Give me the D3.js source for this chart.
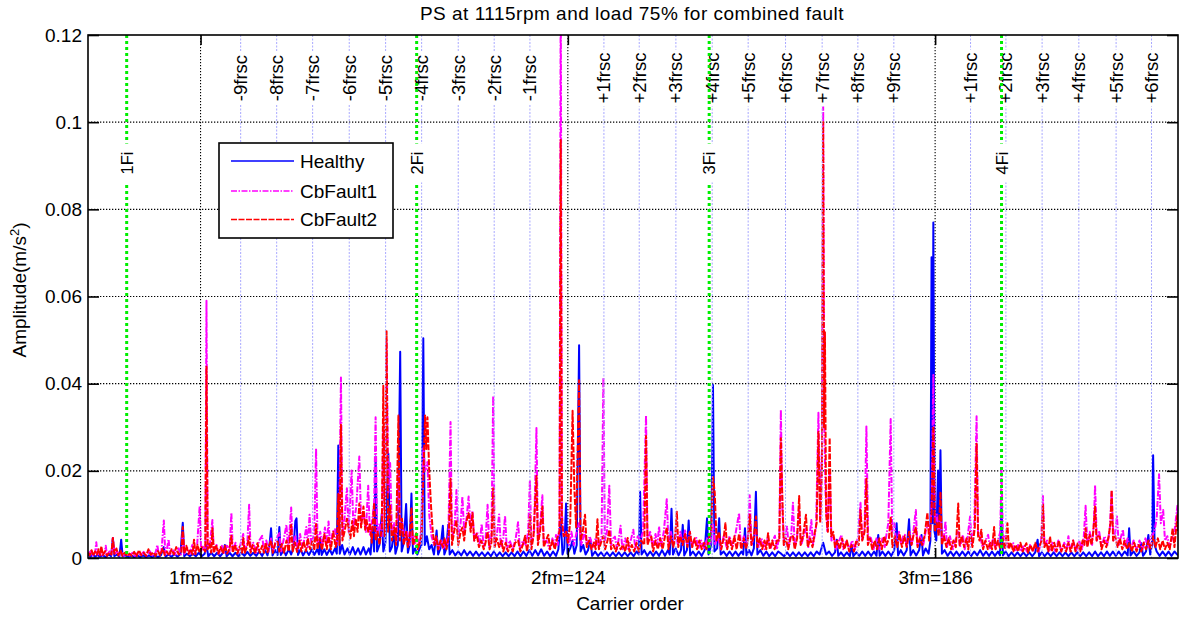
<!DOCTYPE html>
<html>
<head>
<meta charset="utf-8">
<script src="https://cdn.jsdelivr.net/npm/d3@7/dist/d3.min.js"></script>
<style>
  body { margin: 0; background: #fff; }
  text { font-family: "Liberation Sans", Arial, Helvetica, sans-serif; fill: #000; }
</style>
</head>
<body>
<svg id="chart" width="1179" height="618"></svg>
<script>
// ---- Spectrum data: [carrier order, amplitude (m/s^2)] ----
const healthy = [[43.0,.0008],[43.4,.0003],[43.8,.0008],[44.2,.0003],[44.6,.0007],[45.0,.0003],[45.5,.0006],[46.0,.0002],[46.5,.0008],[46.9,.0004],[47.2,.0046],[47.45,.0004],[47.9,.0008],[48.3,.0003],[48.6,.0042],[48.85,.0004],[49.3,.0006],[49.8,.0002],[50.3,.0006],[50.8,.0002],[51.3,.0006],[51.8,.0002],[52.3,.0006],[52.8,.0002],[53.3,.0006],[53.8,.0002],[54.3,.0006],[54.8,.0002],[55.3,.0006],[55.8,.0025],[56.1,.0003],[56.6,.0008],[57.1,.0003],[57.6,.0009],[58.1,.0003],[58.6,.0009],[59.0,.0081],[59.25,.0004],[59.7,.0010],[60.2,.0004],[60.7,.0010],[61.2,.0004],[61.7,.0012],[62.2,.0004],[62.7,.0010],[63.0,.0030],[63.3,.0004],[63.8,.0012],[64.3,.0004],[64.8,.0012],[65.3,.0004],[65.8,.0012],[66.1,.0030],[66.4,.0004],[66.9,.0012],[67.4,.0004],[67.9,.0012],[68.4,.0004],[68.9,.0012],[69.4,.0005],[69.9,.0014],[70.4,.0005],[70.9,.0012],[71.4,.0005],[71.9,.0015],[72.4,.0005],[72.9,.0018],[73.3,.0006],[73.6,.0025],[73.9,.0068],[74.15,.0006],[74.6,.0018],[75.0,.0007],[75.3,.0071],[75.55,.0007],[76.0,.0018],[76.4,.0006],[76.9,.0020],[77.3,.0008],[77.7,.0025],[78.0,.0085],[78.2,.0091],[78.45,.0007],[78.9,.0020],[79.3,.0006],[79.8,.0018],[80.3,.0007],[80.8,.0020],[81.2,.0007],[81.7,.0020],[82.0,.0008],[82.2,.0046],[82.45,.0007],[82.9,.0020],[83.3,.0007],[83.8,.0020],[84.2,.0008],[84.7,.0022],[85.0,.0010],[85.25,.0258],[85.5,.0010],[85.9,.0030],[86.3,.0008],[86.8,.0022],[87.2,.0008],[87.7,.0025],[88.1,.0008],[88.6,.0022],[89.0,.0008],[89.5,.0025],[89.9,.0008],[90.4,.0022],[90.7,.0008],[91.0,.0070],[91.3,.0015],[91.55,.0233],[91.8,.0015],[92.2,.0030],[92.6,.0103],[92.85,.0015],[93.2,.0035],[93.7,.0240],[93.95,.0015],[94.3,.0025],[94.65,.0063],[94.9,.0010],[95.3,.0030],[95.7,.0473],[95.95,.0015],[96.3,.0035],[96.7,.0124],[97.0,.0012],[97.3,.0030],[97.6,.0148],[97.85,.0010],[98.2,.0022],[98.6,.0008],[99.0,.0022],[99.3,.0030],[99.6,.0504],[99.85,.0030],[100.2,.0050],[100.6,.0020],[101.0,.0030],[101.4,.0008],[101.85,.0063],[102.1,.0008],[102.5,.0022],[102.9,.0074],[103.15,.0008],[103.5,.0022],[103.8,.0076],[104.05,.0008],[104.5,.0018],[105.0,.0006],[105.5,.0015],[106.0,.0006],[106.5,.0018],[107.0,.0006],[107.5,.0015],[108.0,.0005],[108.5,.0015],[109.0,.0005],[109.5,.0013],[110.0,.0004],[110.5,.0013],[111.0,.0004],[111.5,.0015],[112.0,.0004],[112.5,.0013],[113.0,.0004],[113.5,.0013],[114.0,.0004],[114.5,.0013],[115.0,.0004],[115.5,.0015],[116.0,.0004],[116.5,.0015],[117.0,.0005],[117.5,.0018],[118.0,.0005],[118.5,.0018],[119.0,.0006],[119.5,.0020],[120.0,.0005],[120.5,.0015],[121.0,.0004],[121.5,.0015],[122.0,.0005],[122.4,.0020],[122.8,.0090],[123.1,.0008],[123.4,.0022],[123.7,.0125],[123.95,.0010],[124.4,.0022],[124.8,.0040],[125.1,.0010],[125.5,.0030],[125.9,.0488],[126.15,.0015],[126.6,.0030],[127.0,.0008],[127.4,.0018],[127.8,.0042],[128.1,.0005],[128.6,.0015],[129.1,.0005],[129.6,.0013],[130.1,.0004],[130.6,.0013],[131.1,.0004],[131.6,.0013],[132.1,.0004],[132.6,.0013],[133.1,.0004],[133.6,.0013],[134.1,.0004],[134.6,.0013],[135.1,.0004],[135.6,.0015],[136.0,.0008],[136.2,.0152],[136.45,.0008],[136.9,.0018],[137.4,.0005],[137.9,.0015],[138.4,.0005],[138.9,.0015],[139.4,.0005],[139.9,.0018],[140.4,.0005],[140.9,.0018],[141.2,.0008],[141.5,.0113],[141.75,.0008],[142.2,.0022],[142.7,.0006],[143.1,.0018],[143.4,.0076],[143.65,.0006],[144.1,.0018],[144.4,.0086],[144.65,.0006],[145.1,.0015],[145.6,.0005],[146.1,.0015],[146.6,.0005],[147.1,.0018],[147.5,.0091],[147.75,.0008],[148.2,.0030],[148.5,.0397],[148.75,.0015],[149.2,.0022],[149.55,.0091],[149.8,.0008],[150.3,.0015],[150.8,.0005],[151.3,.0015],[151.8,.0005],[152.3,.0015],[152.8,.0005],[153.3,.0015],[153.6,.0008],[153.9,.0068],[154.15,.0006],[154.6,.0018],[155.0,.0006],[155.4,.0022],[155.75,.0152],[156.0,.0008],[156.5,.0018],[157.0,.0005],[157.5,.0015],[158.0,.0004],[158.5,.0013],[159.0,.0004],[159.5,.0015],[160.0,.0010],[160.5,.0004],[161.0,.0013],[161.5,.0004],[162.0,.0013],[162.5,.0004],[163.0,.0013],[163.5,.0004],[164.0,.0013],[164.5,.0004],[165.0,.0013],[165.5,.0004],[166.0,.0015],[166.5,.0008],[167.1,.0035],[167.6,.0008],[168.1,.0015],[168.6,.0005],[169.1,.0013],[169.4,.0042],[169.65,.0005],[170.1,.0013],[170.6,.0004],[171.1,.0013],[171.6,.0004],[171.9,.0030],[172.2,.0004],[172.7,.0013],[173.2,.0005],[173.7,.0015],[174.2,.0005],[174.7,.0015],[175.2,.0005],[175.7,.0015],[176.1,.0005],[176.4,.0053],[176.65,.0005],[177.1,.0015],[177.6,.0005],[178.1,.0015],[178.6,.0005],[179.1,.0018],[179.5,.0080],[179.75,.0006],[180.2,.0018],[180.7,.0006],[181.2,.0018],[181.6,.0089],[181.85,.0006],[182.3,.0018],[182.8,.0006],[183.3,.0018],[183.7,.0053],[183.95,.0006],[184.4,.0022],[184.9,.0010],[185.2,.0040],[185.4,.0690],[185.55,.0080],[185.7,.0770],[185.9,.0060],[186.2,.0040],[186.5,.0201],[186.7,.0060],[186.9,.0247],[187.15,.0010],[187.6,.0018],[188.1,.0005],[188.6,.0015],[189.1,.0005],[189.6,.0015],[190.1,.0005],[190.6,.0015],[191.1,.0005],[191.6,.0015],[192.1,.0005],[192.6,.0015],[193.1,.0006],[193.6,.0018],[194.1,.0005],[194.6,.0015],[195.1,.0005],[195.6,.0015],[196.1,.0005],[196.6,.0015],[196.95,.0006],[197.2,.0125],[197.45,.0006],[197.9,.0015],[198.4,.0004],[198.9,.0013],[199.4,.0004],[199.9,.0013],[200.4,.0004],[200.9,.0013],[201.4,.0004],[201.9,.0013],[202.4,.0004],[202.9,.0013],[203.3,.0042],[203.55,.0004],[204.0,.0013],[204.5,.0004],[205.0,.0013],[205.5,.0004],[206.0,.0013],[206.5,.0004],[207.0,.0013],[207.5,.0004],[208.0,.0013],[208.5,.0004],[209.0,.0013],[209.5,.0004],[210.0,.0013],[210.5,.0004],[211.0,.0013],[211.5,.0004],[212.0,.0013],[212.5,.0004],[213.0,.0015],[213.5,.0004],[214.0,.0013],[214.5,.0004],[215.0,.0015],[215.5,.0005],[216.0,.0015],[216.5,.0005],[217.0,.0015],[217.5,.0005],[218.0,.0015],[218.5,.0006],[218.75,.0068],[219.0,.0006],[219.5,.0015],[220.0,.0005],[220.5,.0013],[220.8,.0034],[221.1,.0005],[221.6,.0015],[222.0,.0053],[222.3,.0008],[222.6,.0030],[222.8,.0236],[223.05,.0030],[223.4,.0015],[223.9,.0005],[224.4,.0015],[224.9,.0005],[225.4,.0015],[225.9,.0005],[226.4,.0015],[227.0,.0006]];

const cbFault1 = [[43.0,.0008],[43.4,.0015],[43.8,.0006],[44.2,.0012],[44.4,.0036],[44.6,.0008],[45.0,.0014],[45.4,.0006],[45.8,.0012],[46.0,.0028],[46.2,.0006],[46.6,.0015],[47.0,.0008],[47.2,.0046],[47.45,.0008],[47.9,.0016],[48.3,.0006],[48.7,.0012],[49.1,.0005],[49.5,.0010],[50.0,.0006],[50.4,.0010],[50.6,.0015],[50.9,.0005],[51.4,.0012],[51.9,.0006],[52.4,.0014],[52.9,.0006],[53.4,.0016],[53.9,.0006],[54.4,.0012],[54.7,.0030],[54.95,.0008],[55.4,.0016],[55.8,.0086],[56.05,.0008],[56.3,.0018],[56.6,.0043],[56.85,.0008],[57.3,.0020],[57.8,.0008],[58.3,.0022],[58.7,.0008],[59.0,.0060],[59.25,.0010],[59.7,.0025],[60.2,.0010],[60.6,.0030],[61.0,.0010],[61.4,.0025],[61.85,.0119],[62.1,.0015],[62.5,.0028],[62.8,.0015],[63.0,.0590],[63.2,.0020],[63.6,.0035],[64.0,.0087],[64.25,.0012],[64.7,.0030],[65.1,.0010],[65.6,.0028],[66.0,.0012],[66.5,.0030],[66.9,.0015],[67.2,.0104],[67.45,.0015],[67.9,.0035],[68.4,.0012],[68.8,.0035],[69.2,.0055],[69.45,.0015],[69.9,.0035],[70.2,.0122],[70.45,.0015],[70.9,.0035],[71.4,.0012],[71.9,.0040],[72.4,.0051],[72.7,.0015],[73.1,.0040],[73.5,.0015],[73.9,.0045],[74.3,.0015],[74.8,.0045],[75.3,.0057],[75.6,.0015],[76.0,.0040],[76.5,.0076],[76.8,.0020],[77.3,.0116],[77.55,.0020],[78.0,.0050],[78.4,.0020],[78.8,.0055],[79.2,.0020],[79.6,.0050],[79.85,.0071],[80.1,.0025],[80.4,.0099],[80.7,.0030],[81.2,.0060],[81.5,.0251],[81.75,.0030],[82.2,.0060],[82.6,.0030],[83.0,.0070],[83.3,.0030],[83.6,.0084],[83.9,.0030],[84.3,.0060],[84.7,.0066],[85.0,.0030],[85.4,.0080],[85.7,.0414],[85.95,.0050],[86.3,.0090],[86.7,.0160],[87.0,.0060],[87.5,.0201],[87.8,.0070],[88.3,.0120],[88.8,.0233],[89.1,.0080],[89.5,.0105],[89.9,.0060],[90.3,.0166],[90.6,.0050],[91.0,.0090],[91.3,.0127],[91.55,.0323],[91.8,.0050],[92.2,.0080],[92.6,.0050],[92.85,.0300],[93.1,.0060],[93.4,.0500],[93.7,.0150],[94.0,.0218],[94.3,.0060],[94.7,.0080],[95.1,.0040],[95.4,.0200],[95.7,.0060],[96.1,.0080],[96.5,.0040],[96.9,.0060],[97.3,.0030],[97.7,.0060],[98.1,.0030],[98.5,.0050],[99.0,.0030],[99.3,.0080],[99.6,.0255],[99.9,.0200],[100.3,.0220],[100.6,.0100],[101.0,.0050],[101.4,.0030],[101.8,.0050],[102.2,.0020],[102.6,.0040],[103.0,.0020],[103.4,.0045],[103.8,.0030],[104.2,.0312],[104.45,.0040],[104.9,.0080],[105.2,.0156],[105.5,.0050],[105.9,.0080],[106.2,.0141],[106.5,.0060],[106.9,.0090],[107.25,.0141],[107.6,.0070],[107.9,.0108],[108.2,.0040],[108.7,.0060],[109.1,.0030],[109.45,.0078],[109.8,.0025],[110.1,.0040],[110.45,.0122],[110.75,.0025],[111.1,.0050],[111.4,.0372],[111.65,.0030],[112.0,.0050],[112.4,.0100],[112.7,.0025],[113.1,.0045],[113.4,.0097],[113.7,.0020],[114.2,.0040],[114.7,.0020],[115.2,.0045],[115.6,.0082],[115.9,.0020],[116.4,.0040],[116.9,.0030],[117.3,.0060],[117.6,.0179],[117.85,.0030],[118.3,.0060],[118.7,.0298],[118.95,.0040],[119.3,.0070],[119.7,.0144],[119.95,.0030],[120.4,.0040],[120.9,.0020],[121.4,.0045],[121.8,.0025],[122.0,.0053],[122.3,.0030],[122.6,.0080],[122.8,.1350],[123.0,.0100],[123.3,.0050],[123.8,.0060],[124.2,.0030],[124.6,.0060],[125.0,.0030],[125.5,.0060],[125.9,.0080],[126.3,.0030],[126.8,.0060],[127.2,.0030],[127.7,.0050],[128.2,.0025],[128.7,.0045],[129.2,.0025],[129.7,.0050],[130.0,.0414],[130.25,.0040],[130.6,.0060],[131.0,.0166],[131.3,.0030],[131.65,.0045],[131.95,.0049],[132.3,.0020],[132.6,.0045],[132.9,.0074],[133.2,.0020],[133.7,.0045],[134.2,.0020],[134.7,.0045],[135.05,.0065],[135.4,.0020],[135.8,.0050],[136.2,.0040],[136.7,.0060],[137.2,.0327],[137.45,.0040],[137.9,.0060],[138.3,.0025],[138.8,.0055],[139.1,.0030],[139.4,.0072],[139.7,.0025],[140.2,.0060],[140.7,.0135],[141.0,.0030],[141.4,.0060],[141.8,.0030],[142.2,.0055],[142.6,.0030],[143.0,.0060],[143.4,.0030],[143.8,.0065],[144.1,.0030],[144.6,.0060],[145.0,.0025],[145.4,.0045],[145.7,.0046],[146.0,.0020],[146.5,.0040],[147.0,.0020],[147.5,.0045],[148.0,.0025],[148.5,.0080],[148.8,.0030],[149.3,.0050],[149.8,.0020],[150.3,.0050],[150.8,.0025],[151.3,.0050],[151.8,.0025],[152.3,.0055],[152.9,.0103],[153.2,.0025],[153.7,.0050],[154.1,.0025],[154.4,.0050],[154.7,.0144],[155.0,.0030],[155.4,.0050],[155.8,.0060],[156.2,.0025],[156.7,.0045],[157.2,.0020],[157.7,.0045],[158.2,.0020],[158.6,.0040],[158.95,.0051],[159.3,.0020],[159.7,.0050],[159.96,.0340],[160.2,.0120],[160.5,.0030],[161.0,.0072],[161.3,.0025],[161.7,.0050],[162.0,.0127],[162.3,.0025],[162.7,.0050],[163.05,.0110],[163.4,.0030],[163.8,.0050],[164.2,.0070],[164.6,.0025],[165.1,.0087],[165.4,.0030],[165.9,.0070],[166.3,.0333],[166.6,.0090],[166.9,.0250],[167.1,.1037],[167.3,.0300],[167.5,.0150],[167.8,.0060],[168.2,.0200],[168.5,.0040],[168.9,.0050],[169.3,.0020],[169.8,.0040],[170.2,.0053],[170.5,.0020],[171.0,.0040],[171.5,.0020],[172.0,.0040],[172.5,.0020],[173.0,.0050],[173.4,.0127],[173.7,.0040],[174.1,.0070],[174.4,.0302],[174.7,.0040],[175.1,.0050],[175.6,.0020],[176.1,.0045],[176.6,.0020],[177.1,.0045],[177.5,.0025],[177.8,.0055],[178.1,.0080],[178.5,.0319],[178.75,.0060],[179.1,.0080],[179.5,.0030],[179.9,.0060],[180.3,.0030],[180.6,.0050],[180.9,.0053],[181.2,.0025],[181.7,.0060],[182.1,.0030],[182.4,.0070],[182.75,.0110],[183.0,.0030],[183.5,.0050],[184.0,.0030],[184.4,.0060],[184.8,.0080],[185.1,.0050],[185.4,.0120],[185.7,.0420],[185.95,.0080],[186.3,.0100],[186.6,.0060],[186.9,.0090],[187.2,.0040],[187.5,.0050],[187.75,.0084],[188.0,.0025],[188.5,.0050],[189.0,.0020],[189.5,.0045],[189.9,.0060],[190.2,.0025],[190.7,.0053],[191.0,.0020],[191.5,.0050],[191.9,.0095],[192.2,.0030],[192.6,.0070],[193.0,.0325],[193.25,.0060],[193.6,.0050],[194.0,.0025],[194.5,.0040],[194.95,.0053],[195.3,.0020],[195.8,.0045],[196.2,.0020],[196.7,.0045],[197.0,.0060],[197.2,.0209],[197.45,.0040],[197.8,.0050],[198.3,.0025],[198.8,.0030],[199.2,.0034],[199.5,.0015],[200.0,.0030],[200.5,.0015],[201.0,.0030],[201.5,.0015],[202.0,.0030],[202.5,.0015],[203.0,.0030],[203.5,.0015],[203.9,.0040],[204.2,.0142],[204.45,.0030],[204.9,.0040],[205.3,.0015],[205.8,.0035],[206.3,.0015],[206.8,.0040],[207.3,.0015],[207.8,.0035],[208.2,.0020],[208.5,.0050],[208.8,.0015],[209.3,.0040],[209.8,.0015],[210.3,.0040],[210.8,.0020],[211.1,.0050],[211.4,.0120],[211.7,.0030],[212.1,.0060],[212.5,.0030],[212.8,.0080],[213.0,.0167],[213.3,.0040],[213.7,.0060],[214.1,.0025],[214.6,.0050],[215.1,.0030],[215.5,.0070],[215.8,.0154],[216.1,.0040],[216.4,.0060],[216.7,.0095],[217.0,.0030],[217.4,.0050],[217.7,.0065],[218.0,.0025],[218.5,.0045],[219.0,.0020],[219.5,.0040],[220.0,.0020],[220.5,.0040],[221.0,.0020],[221.5,.0045],[222.0,.0025],[222.5,.0050],[223.0,.0060],[223.4,.0090],[223.8,.0192],[224.1,.0080],[224.5,.0110],[224.8,.0040],[225.2,.0050],[225.6,.0025],[226.0,.0045],[226.4,.0060],[226.9,.0120],[227.0,.0080]];

const cbFault2 = [[43.0,.0012],[43.3,.0006],[43.6,.0018],[43.9,.0005],[44.2,.0015],[44.5,.0008],[44.8,.0020],[45.05,.0006],[45.25,.0027],[45.5,.0007],[45.9,.0016],[46.2,.0005],[46.6,.0013],[46.95,.0008],[47.2,.0046],[47.45,.0010],[47.8,.0022],[48.1,.0006],[48.5,.0017],[48.8,.0005],[49.2,.0012],[49.6,.0004],[50.0,.0010],[50.4,.0005],[50.8,.0014],[51.2,.0004],[51.6,.0018],[52.0,.0006],[52.4,.0012],[52.8,.0005],[53.2,.0020],[53.6,.0007],[54.0,.0013],[54.4,.0005],[54.8,.0016],[55.2,.0006],[55.6,.0022],[55.95,.0007],[56.3,.0015],[56.7,.0006],[57.1,.0020],[57.5,.0008],[57.9,.0025],[58.3,.0008],[58.75,.0012],[59.0,.0071],[59.25,.0010],[59.6,.0028],[59.95,.0009],[60.3,.0020],[60.65,.0008],[60.9,.0042],[61.15,.0009],[61.5,.0030],[61.85,.0012],[62.2,.0025],[62.8,.0015],[63.0,.0439],[63.2,.0020],[63.5,.0032],[63.8,.0012],[64.0,.0068],[64.25,.0012],[64.6,.0030],[65.0,.0010],[65.4,.0025],[65.8,.0010],[66.1,.0028],[66.5,.0010],[66.9,.0022],[67.2,.0051],[67.45,.0012],[67.8,.0030],[68.2,.0010],[68.6,.0026],[69.0,.0012],[69.2,.0046],[69.45,.0012],[69.9,.0028],[70.2,.0050],[70.45,.0012],[70.8,.0030],[71.2,.0010],[71.6,.0034],[72.0,.0012],[72.4,.0028],[72.7,.0012],[73.0,.0035],[73.3,.0013],[73.6,.0030],[73.9,.0040],[74.2,.0012],[74.6,.0034],[75.0,.0038],[75.3,.0015],[75.7,.0032],[76.1,.0012],[76.5,.0040],[76.9,.0015],[77.3,.0076],[77.55,.0015],[77.9,.0036],[78.3,.0014],[78.7,.0040],[79.0,.0015],[79.4,.0038],[79.8,.0016],[80.1,.0045],[80.5,.0020],[80.9,.0040],[81.2,.0018],[81.5,.0078],[81.75,.0020],[82.1,.0045],[82.5,.0018],[82.9,.0055],[83.3,.0020],[83.6,.0050],[84.0,.0020],[84.4,.0060],[84.8,.0025],[85.05,.0040],[85.25,.0147],[85.45,.0030],[85.7,.0306],[85.95,.0040],[86.3,.0060],[86.7,.0090],[87.0,.0070],[87.3,.0045],[87.6,.0085],[87.9,.0050],[88.2,.0090],[88.5,.0060],[88.8,.0125],[89.1,.0070],[89.5,.0118],[89.8,.0065],[90.0,.0090],[90.3,.0060],[90.6,.0080],[90.9,.0035],[91.3,.0127],[91.55,.0040],[91.9,.0060],[92.2,.0030],[92.6,.0070],[92.85,.0395],[93.1,.0050],[93.4,.0520],[93.65,.0060],[94.0,.0120],[94.3,.0040],[94.7,.0070],[95.0,.0030],[95.4,.0327],[95.65,.0040],[96.0,.0090],[96.3,.0030],[96.7,.0060],[97.0,.0025],[97.3,.0050],[97.6,.0116],[97.85,.0030],[98.1,.0040],[98.4,.0057],[98.7,.0020],[99.0,.0035],[99.3,.0050],[99.6,.0180],[99.9,.0327],[100.1,.0250],[100.3,.0323],[100.6,.0200],[100.9,.0120],[101.2,.0060],[101.5,.0030],[101.8,.0050],[102.1,.0020],[102.5,.0040],[102.9,.0025],[103.2,.0045],[103.5,.0020],[103.9,.0050],[104.2,.0182],[104.45,.0030],[104.8,.0060],[105.2,.0087],[105.5,.0030],[105.9,.0060],[106.2,.0070],[106.5,.0040],[106.8,.0080],[107.25,.0103],[107.6,.0060],[107.9,.0103],[108.2,.0040],[108.6,.0055],[109.0,.0025],[109.4,.0040],[109.8,.0020],[110.1,.0035],[110.45,.0060],[110.8,.0020],[111.1,.0035],[111.4,.0160],[111.65,.0025],[112.0,.0045],[112.4,.0025],[112.8,.0040],[113.1,.0015],[113.5,.0035],[113.9,.0015],[114.3,.0030],[114.7,.0015],[115.1,.0035],[115.6,.0040],[116.0,.0015],[116.4,.0030],[116.8,.0051],[117.1,.0015],[117.4,.0040],[117.6,.0099],[117.85,.0020],[118.2,.0050],[118.7,.0188],[118.95,.0030],[119.3,.0060],[119.7,.0118],[119.95,.0025],[120.3,.0040],[120.7,.0053],[121.0,.0020],[121.4,.0040],[121.8,.0020],[122.2,.0045],[122.6,.0060],[122.8,.0959],[123.0,.0080],[123.3,.0050],[123.7,.0060],[124.0,.0035],[124.4,.0080],[124.8,.0338],[125.1,.0160],[125.4,.0070],[125.9,.0408],[126.15,.0040],[126.5,.0060],[126.9,.0099],[127.2,.0025],[127.6,.0040],[128.0,.0020],[128.4,.0035],[128.7,.0020],[129.0,.0089],[129.25,.0020],[129.6,.0035],[130.0,.0050],[130.3,.0020],[130.7,.0040],[131.0,.0065],[131.3,.0020],[131.7,.0030],[132.1,.0015],[132.5,.0035],[132.9,.0020],[133.3,.0030],[133.7,.0015],[134.1,.0046],[134.4,.0015],[134.8,.0030],[135.2,.0015],[135.6,.0035],[136.0,.0015],[136.4,.0040],[136.9,.0030],[137.2,.0280],[137.45,.0030],[137.8,.0045],[138.1,.0049],[138.4,.0015],[138.8,.0040],[139.2,.0020],[139.6,.0045],[140.0,.0020],[140.4,.0050],[140.7,.0070],[141.0,.0020],[141.4,.0050],[141.8,.0025],[142.1,.0045],[142.4,.0106],[142.65,.0025],[143.0,.0050],[143.4,.0030],[143.8,.0055],[144.2,.0025],[144.6,.0060],[145.0,.0025],[145.4,.0045],[145.8,.0020],[146.2,.0040],[146.6,.0020],[147.0,.0035],[147.4,.0020],[147.8,.0045],[148.2,.0060],[148.5,.0186],[148.8,.0150],[149.1,.0040],[149.5,.0060],[149.9,.0020],[150.3,.0045],[150.6,.0080],[150.9,.0020],[151.3,.0045],[151.7,.0020],[152.1,.0050],[152.5,.0020],[152.9,.0055],[153.3,.0020],[153.7,.0045],[154.1,.0020],[154.4,.0040],[154.7,.0099],[155.0,.0030],[155.4,.0050],[155.75,.0095],[156.0,.0025],[156.4,.0045],[156.8,.0020],[157.2,.0040],[157.5,.0020],[157.8,.0057],[158.1,.0020],[158.5,.0040],[158.9,.0020],[159.3,.0040],[159.7,.0040],[159.96,.0275],[160.2,.0142],[160.45,.0030],[160.8,.0045],[161.2,.0020],[161.6,.0050],[162.0,.0050],[162.3,.0020],[162.7,.0045],[163.05,.0142],[163.3,.0030],[163.7,.0050],[164.2,.0099],[164.5,.0025],[164.9,.0045],[165.3,.0025],[165.7,.0060],[166.0,.0080],[166.3,.0289],[166.6,.0080],[166.9,.0200],[167.1,.1000],[167.25,.0300],[167.4,.0518],[167.6,.0100],[167.9,.0060],[168.2,.0276],[168.45,.0050],[168.8,.0060],[169.1,.0025],[169.5,.0040],[169.9,.0020],[170.3,.0045],[170.7,.0020],[171.1,.0040],[171.5,.0015],[171.9,.0030],[172.3,.0015],[172.7,.0040],[173.1,.0030],[173.4,.0110],[173.7,.0040],[174.1,.0060],[174.4,.0182],[174.65,.0030],[175.0,.0045],[175.4,.0020],[175.8,.0040],[176.2,.0020],[176.6,.0045],[177.0,.0020],[177.4,.0050],[177.8,.0030],[178.2,.0045],[178.5,.0095],[178.8,.0025],[179.2,.0050],[179.6,.0025],[180.0,.0055],[180.4,.0025],[180.8,.0050],[181.2,.0025],[181.6,.0060],[182.0,.0030],[182.4,.0055],[182.75,.0070],[183.05,.0025],[183.4,.0045],[183.8,.0030],[184.2,.0050],[184.7,.0104],[185.0,.0040],[185.4,.0100],[185.7,.0302],[185.95,.0060],[186.3,.0080],[186.6,.0050],[186.9,.0152],[187.15,.0030],[187.5,.0050],[187.9,.0025],[188.3,.0045],[188.7,.0020],[189.1,.0040],[189.5,.0025],[189.9,.0125],[190.15,.0030],[190.5,.0050],[190.9,.0025],[191.3,.0045],[191.6,.0020],[191.9,.0060],[192.3,.0025],[192.7,.0070],[193.0,.0262],[193.25,.0050],[193.5,.0040],[193.8,.0065],[194.1,.0020],[194.5,.0040],[194.9,.0020],[195.3,.0035],[195.6,.0020],[195.96,.0071],[196.2,.0020],[196.6,.0040],[197.0,.0020],[197.4,.0045],[197.8,.0020],[198.2,.0080],[198.45,.0020],[198.8,.0035],[199.2,.0015],[199.6,.0030],[200.0,.0015],[200.4,.0035],[200.8,.0015],[201.1,.0025],[201.4,.0034],[201.7,.0012],[202.1,.0030],[202.5,.0015],[202.9,.0035],[203.3,.0015],[203.7,.0030],[204.0,.0040],[204.2,.0122],[204.45,.0025],[204.8,.0035],[205.1,.0015],[205.4,.0049],[205.7,.0015],[206.1,.0035],[206.5,.0015],[206.9,.0040],[207.3,.0015],[207.7,.0030],[208.1,.0015],[208.5,.0035],[208.9,.0015],[209.3,.0040],[209.7,.0015],[210.1,.0035],[210.5,.0015],[210.9,.0040],[211.2,.0030],[211.4,.0068],[211.7,.0025],[212.1,.0053],[212.4,.0030],[212.7,.0060],[213.0,.0118],[213.25,.0040],[213.5,.0050],[213.8,.0049],[214.1,.0020],[214.5,.0040],[214.9,.0025],[215.3,.0050],[215.6,.0080],[215.8,.0156],[216.05,.0040],[216.4,.0050],[216.8,.0025],[217.2,.0045],[217.6,.0020],[218.0,.0040],[218.4,.0020],[218.8,.0035],[219.2,.0015],[219.6,.0035],[220.0,.0015],[220.4,.0030],[220.8,.0015],[221.2,.0035],[221.6,.0020],[222.0,.0040],[222.4,.0020],[222.8,.0050],[223.2,.0025],[223.6,.0045],[224.0,.0020],[224.4,.0040],[224.8,.0020],[225.2,.0035],[225.6,.0020],[226.1,.0068],[226.4,.0025],[226.9,.0099],[227.0,.0060]];

const seriesNames = ["Healthy", "CbFault1", "CbFault2"];

// ---- Axes ----
const xDomain = [43, 227];
const yDomain = [0, 0.12];
const yTicks = [0, 0.02, 0.04, 0.06, 0.08, 0.1, 0.12];
const yTickLabels = ["0", "0.02", "0.04", "0.06", "0.08", "0.1", "0.12"];
const xTicks = [62, 124, 186];
const xTickLabels = ["1fm=62", "2fm=124", "3fm=186"];

// ---- Marker lines: sidebands (carrier ± k·frsc) and inner-race fault orders ----
const sidebandOrders = [68.77, 74.85, 80.92, 87.10, 93.24, 99.32, 105.50, 111.57, 117.60,
                        130.09, 136.05, 142.24, 148.37, 154.44, 160.75, 166.93, 172.96, 179.03,
                        191.98, 197.95, 204.06, 210.26, 216.55, 222.53];
const sidebandLabels = ["-9frsc", "-8frsc", "-7frsc", "-6frsc", "-5frsc", "-4frsc", "-3frsc", "-2frsc", "-1frsc",
                        "+1frsc", "+2frsc", "+3frsc", "+4frsc", "+5frsc", "+6frsc", "+7frsc", "+8frsc", "+9frsc",
                        "+1frsc", "+2frsc", "+3frsc", "+4frsc", "+5frsc", "+6frsc"];
const faultOrders = [49.53, 98.48, 147.86, 197.21];
const faultLabels = ["1Fi", "2Fi", "3Fi", "4Fi"];

// ---- Layout ----
const plot = { left: 88, right: 1178, top: 35, bottom: 558 };
const FONT = 19;

const svg = d3.select("#chart");
const x = d3.scaleLinear().domain(xDomain).range([plot.left, plot.right]);
const y = d3.scaleLinear().domain(yDomain).range([plot.bottom, plot.top]);

svg.append("defs").append("clipPath").attr("id", "plotClip")
  .append("rect")
  .attr("x", plot.left).attr("y", plot.top)
  .attr("width", plot.right - plot.left).attr("height", plot.bottom - plot.top);

// Grid (black dotted)
const grid = svg.append("g").attr("class", "grid");
grid.selectAll("line.hg").data(yTicks.filter(d => d > 0 && d < 0.12)).join("line")
  .attr("x1", plot.left).attr("x2", plot.right)
  .attr("y1", d => y(d)).attr("y2", d => y(d))
  .attr("stroke", "#000").attr("stroke-width", 1.1).attr("stroke-dasharray", "1.3,1.7");
grid.selectAll("line.vg").data(xTicks).join("line")
  .attr("x1", d => x(d)).attr("x2", d => x(d))
  .attr("y1", plot.top).attr("y2", plot.bottom)
  .attr("stroke", "#000").attr("stroke-width", 1.1).attr("stroke-dasharray", "1.3,1.7");

// Spectra
const line = d3.line().x(d => x(d[0])).y(d => y(d[1]));
const styles = [
  { data: healthy,  color: "#0000ff", dash: null },
  { data: cbFault1, color: "#ff00ff", dash: "6,1.5,1.5,1.5" },
  { data: cbFault2, color: "#ff0000", dash: "6,1.5" }
];
const dataG = svg.append("g").attr("clip-path", "url(#plotClip)");
styles.forEach(s => {
  dataG.append("path").datum(s.data)
    .attr("d", line)
    .attr("fill", "none")
    .attr("stroke", s.color)
    .attr("stroke-width", 2)
    .attr("stroke-linejoin", "round")
    .attr("stroke-dasharray", s.dash);
});

// Sideband marker lines with labels
const sbG = svg.append("g");
sbG.selectAll("line").data(sidebandOrders).join("line")
  .attr("x1", d => x(d)).attr("x2", d => x(d))
  .attr("y1", plot.top).attr("y2", plot.bottom)
  .attr("stroke", "#a8a8ff").attr("stroke-width", 1).attr("stroke-dasharray", "2,1.5");

function rotatedLabel(parent, px, py, txt, size, pad) {
  const g = parent.append("g").attr("transform", `translate(${px},${py}) rotate(-90)`);
  const rect = g.append("rect").attr("fill", "#fff");
  const t = g.append("text")
    .attr("text-anchor", "middle").attr("dominant-baseline", "central")
    .attr("font-size", size).text(txt);
  const b = t.node().getBBox();
  rect.attr("x", b.x - pad).attr("y", b.y + 1).attr("width", b.width + 2 * pad).attr("height", b.height - 2);
}
sidebandOrders.forEach((d, i) => rotatedLabel(sbG, x(d), 78, sidebandLabels[i], 18.5, 3));

// Fault-order marker lines (green dotted) with labels
const fiG = svg.append("g");
fiG.selectAll("line").data(faultOrders).join("line")
  .attr("x1", d => x(d)).attr("x2", d => x(d))
  .attr("y1", plot.top).attr("y2", plot.bottom)
  .attr("stroke", "#00ee00").attr("stroke-width", 3).attr("stroke-dasharray", "3,3");
faultOrders.forEach((d, i) => rotatedLabel(fiG, x(d), 163, faultLabels[i], 16.5, 8));

// Axis box
svg.append("rect")
  .attr("x", plot.left).attr("y", plot.top)
  .attr("width", plot.right - plot.left).attr("height", plot.bottom - plot.top)
  .attr("fill", "none").attr("stroke", "#000").attr("stroke-width", 1.6);

// Axes with inward ticks
const yAxisL = d3.axisLeft(y).tickValues(yTicks).tickFormat((d, i) => yTickLabels[i])
  .tickSizeInner(-11).tickSizeOuter(0).tickPadding(6);
const gyl = svg.append("g").attr("transform", `translate(${plot.left},0)`).call(yAxisL);
const yAxisR = d3.axisRight(y).tickValues(yTicks).tickFormat("").tickSizeInner(-11).tickSizeOuter(0);
const gyr = svg.append("g").attr("transform", `translate(${plot.right},0)`).call(yAxisR);
const xAxisB = d3.axisBottom(x).tickValues(xTicks).tickFormat((d, i) => xTickLabels[i])
  .tickSizeInner(-10).tickSizeOuter(0).tickPadding(13);
const gxb = svg.append("g").attr("transform", `translate(0,${plot.bottom})`).call(xAxisB);
const xAxisT = d3.axisTop(x).tickValues(xTicks).tickFormat("").tickSizeInner(-10).tickSizeOuter(0);
const gxt = svg.append("g").attr("transform", `translate(0,${plot.top})`).call(xAxisT);
[gyl, gyr, gxb, gxt].forEach(g => {
  g.select(".domain").remove();
  g.selectAll(".tick line").attr("stroke", "#000").attr("stroke-width", 1.6);
  g.selectAll(".tick text").attr("font-size", FONT).attr("font-family", "Liberation Sans, Arial, sans-serif").attr("fill", "#000");
});

// Titles
svg.append("text").attr("x", 632).attr("y", 20).attr("text-anchor", "middle")
  .attr("font-size", FONT).attr("letter-spacing", 0.5)
  .text("PS at 1115rpm and load 75% for combined fault");
svg.append("text").attr("x", 630).attr("y", 610).attr("text-anchor", "middle")
  .attr("font-size", FONT).text("Carrier order");
const yl = svg.append("text").attr("transform", "translate(26,290) rotate(-90)")
  .attr("text-anchor", "middle").attr("font-size", FONT);
yl.append("tspan").text("Amplitude(m/s");
yl.append("tspan").attr("font-size", 13).attr("dy", -7).text("2");
yl.append("tspan").attr("dy", 7).text(")");

// Legend
const lg = svg.append("g");
lg.append("rect").attr("x", 219).attr("y", 143).attr("width", 174).attr("height", 95)
  .attr("fill", "#fff").attr("stroke", "#000").attr("stroke-width", 1.6);
const legendY = [161, 191, 219.5];
styles.forEach((s, i) => {
  lg.append("line").attr("x1", 231).attr("x2", 294).attr("y1", legendY[i]).attr("y2", legendY[i])
    .attr("stroke", s.color).attr("stroke-width", 1.6).attr("stroke-dasharray", s.dash);
  lg.append("text").attr("x", 300).attr("y", legendY[i]).attr("dominant-baseline", "central")
    .attr("font-size", FONT).text(seriesNames[i]);
});
</script>
</body>
</html>
